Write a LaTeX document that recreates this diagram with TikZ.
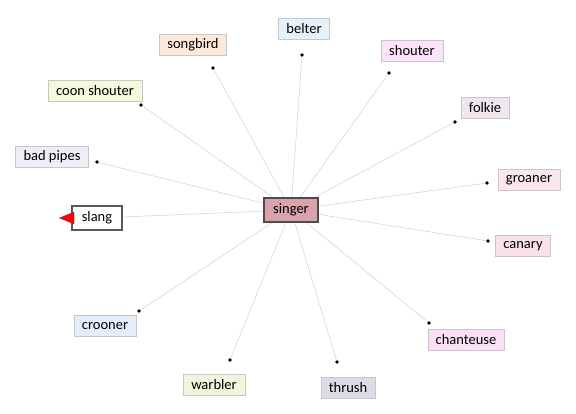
\documentclass[tikz,border=0pt]{standalone}
\usepackage{fontspec}
\setmainfont{Carlito}
\usetikzlibrary{shapes.geometric,backgrounds}

\definecolor{hubfill}{HTML}{D8A3AD}
\definecolor{spoke}{HTML}{D0D0D0}
\definecolor{cSongbird}{HTML}{FDE9D9}
\definecolor{cBelter}{HTML}{E5F2FA}
\definecolor{cShouter}{HTML}{FBE4FB}
\definecolor{cFolkie}{HTML}{F0E6EE}
\definecolor{cGroaner}{HTML}{FBE6EC}
\definecolor{cCanary}{HTML}{F9E1E8}
\definecolor{cChanteuse}{HTML}{FBDFF6}
\definecolor{cThrush}{HTML}{DCDCE6}
\definecolor{cWarbler}{HTML}{EEF7DC}
\definecolor{cCrooner}{HTML}{E3EEFA}
\definecolor{cBadpipes}{HTML}{F0EDF8}
\definecolor{cCoon}{HTML}{F3FADC}

\begin{document}
\begin{tikzpicture}[
    x=1pt, y=-1pt,
    word/.style={draw=black!22, minimum height=21pt, inner xsep=8pt, font=\fontsize{14.5}{16}\selectfont},
    hub/.style={draw=black!70, line width=2.2pt, fill=hubfill, minimum height=24pt, inner xsep=9pt, font=\fontsize{14.5}{16}\selectfont},
    leaf/.style={draw=black!65, line width=1.6pt, fill=white, minimum height=24pt, inner xsep=10pt, font=\fontsize{14.5}{16}\selectfont},
    pin/.style={circle, fill=black, inner sep=0pt, minimum size=3.6pt},
    link/.style={draw=spoke, line width=0.5pt}
]
\useasboundingbox (0,0) rectangle (576,413);

\node[hub] (singer) at (291,210) {singer};
\node[leaf] (slang) at (97,218) {slang};
\node[isosceles triangle, shape border rotate=180, fill=red, draw=black!70, line width=0.4pt,
      inner sep=0pt, minimum height=10pt, minimum width=12pt, anchor=apex] (flag) at (59,218) {};

% synonyms round the hub
\node[word, fill=cSongbird] (songbird) at (193,45) {songbird};
\node[word, fill=cBelter] (belter) at (304,29) {belter};
\node[word, fill=cShouter] (shouter) at (412,51) {shouter};
\node[word, fill=cFolkie] (folkie) at (485,108) {folkie};
\node[word, fill=cGroaner] (groaner) at (529,180) {groaner};
\node[word, fill=cCanary] (canary) at (523,246) {canary};
\node[word, fill=cChanteuse] (chanteuse) at (466,340) {chanteuse};
\node[word, fill=cThrush] (thrush) at (348,388) {thrush};
\node[word, fill=cWarbler] (warbler) at (214,385) {warbler};
\node[word, fill=cCrooner] (crooner) at (105,326) {crooner};
\node[word, fill=cBadpipes] (badpipes) at (52,157) {bad pipes};
\node[word, fill=cCoon] (coonshouter) at (95,91) {coon shouter};

\node[pin] (p-songbird) at (213,68) {};
\node[pin] (p-belter) at (302,55) {};
\node[pin] (p-shouter) at (389,73) {};
\node[pin] (p-folkie) at (455,122) {};
\node[pin] (p-groaner) at (487,183) {};
\node[pin] (p-canary) at (488,241) {};
\node[pin] (p-chanteuse) at (429,323) {};
\node[pin] (p-thrush) at (337,362) {};
\node[pin] (p-warbler) at (230,360) {};
\node[pin] (p-crooner) at (139,311) {};
\node[pin] (p-badpipes) at (97,162) {};
\node[pin] (p-coonshouter) at (141,105) {};

\begin{scope}[on background layer]
\foreach \w in {songbird,belter,shouter,folkie,groaner,canary,chanteuse,thrush,warbler,crooner,badpipes,coonshouter}
    \draw[link] (singer.center) -- (p-\w);
\draw[link] (slang) -- (singer.center);
\end{scope}
\end{tikzpicture}
\end{document}
